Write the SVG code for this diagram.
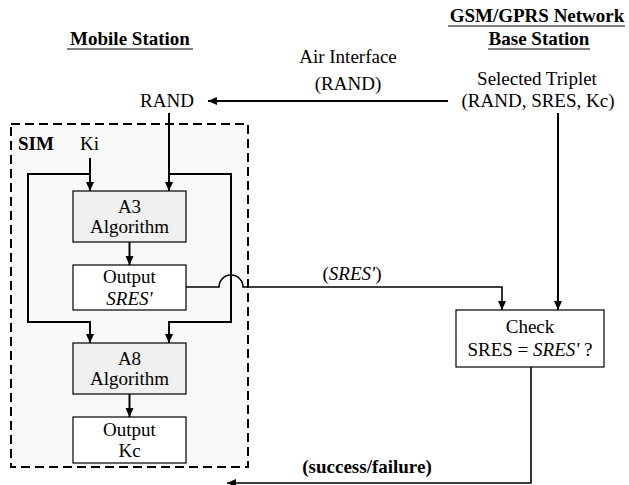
<svg xmlns="http://www.w3.org/2000/svg" width="629" height="485" viewBox="0 0 629 485">
<style>
text{font-family:"Liberation Serif","Times New Roman",serif;font-size:19px;fill:#000}
.b{font-weight:bold}
.i{font-style:italic}
.ln{fill:none;stroke:#000;stroke-width:2}
.thin{stroke-width:1.6}
.box{stroke:#000;stroke-width:1.2}
.g{fill:#f0f0f0}
.w{fill:#fff}
.ul{stroke:#000;stroke-width:1.2}
</style>
<defs>
<marker id="ah" markerUnits="userSpaceOnUse" markerWidth="9" markerHeight="9" refX="9" refY="4.5" orient="auto">
<path d="M0,0.5 L9,4.5 L0,8.5 z" fill="#000"/>
</marker>
</defs>
<rect width="629" height="485" fill="#fff"/>
<g id="sim">
<rect x="11" y="124" width="237" height="343" fill="#f8f8f8" stroke="#000" stroke-width="2" stroke-dasharray="9,5"/>
<text class="b" x="18" y="150">SIM</text>
<text x="80" y="150">Ki</text>
</g>
<g id="headers">
<text class="b" x="130" y="45" text-anchor="middle">Mobile Station</text>
<line class="ul" x1="67" y1="49" x2="193" y2="49"/>
<text class="b" x="537" y="22" text-anchor="middle">GSM/GPRS Network</text>
<line class="ul" x1="448" y1="26" x2="625" y2="26"/>
<text class="b" x="539" y="45" text-anchor="middle">Base Station</text>
<line class="ul" x1="488" y1="49" x2="590" y2="49"/>
</g>
<g id="rand">
<text x="167" y="107" text-anchor="middle">RAND</text>
</g>
<g id="triplet">
<text x="537" y="85" text-anchor="middle">Selected Triplet</text>
<text x="538" y="107" text-anchor="middle">(RAND, SRES, Kc)</text>
</g>
<g id="a3">
<rect class="box g" x="73" y="191" width="113" height="51"/>
<text x="129.5" y="213" text-anchor="middle">A3</text>
<text x="129.5" y="233" text-anchor="middle">Algorithm</text>
</g>
<g id="out-sres">
<rect class="box w" x="73" y="265" width="113" height="45"/>
<text x="129.5" y="283" text-anchor="middle">Output</text>
<text class="i" x="129.5" y="305" text-anchor="middle">SRES'</text>
</g>
<g id="a8">
<rect class="box g" x="73" y="343" width="113" height="51"/>
<text x="129.5" y="365" text-anchor="middle">A8</text>
<text x="129.5" y="385" text-anchor="middle">Algorithm</text>
</g>
<g id="out-kc">
<rect class="box w" x="73" y="417" width="113" height="46"/>
<text x="129.5" y="436" text-anchor="middle">Output</text>
<text x="129.5" y="457" text-anchor="middle">Kc</text>
</g>
<g id="check">
<rect class="box w" x="456" y="310" width="148" height="57"/>
<text x="530" y="333" text-anchor="middle">Check</text>
<text x="530" y="356" text-anchor="middle">SRES = <tspan class="i">SRES'</tspan> ?</text>
</g>
<g id="connectors">
<line class="ln" x1="448" y1="101" x2="208" y2="101" marker-end="url(#ah)"/>
<text x="348" y="63" text-anchor="middle">Air Interface</text>
<text x="348" y="90" text-anchor="middle">(RAND)</text>
<line class="ln" x1="90" y1="158" x2="90" y2="191" marker-end="url(#ah)"/>
<line class="ln" x1="169" y1="113" x2="169" y2="191" marker-end="url(#ah)"/>
<polyline class="ln" points="90,174 28,174 28,322 90,322 90,343" marker-end="url(#ah)"/>
<polyline class="ln" points="169,174 231,174 231,322 169,322 169,343" marker-end="url(#ah)"/>
<line class="ln" x1="129.5" y1="242" x2="129.5" y2="265" marker-end="url(#ah)"/>
<line class="ln" x1="129.5" y1="394" x2="129.5" y2="417" marker-end="url(#ah)"/>
<path class="ln thin" d="M186,287 H219 A12,12 0 0 1 243,287 H502 V310" marker-end="url(#ah)"/>
<text x="352" y="280" text-anchor="middle">(<tspan class="i">SRES'</tspan>)</text>
<line class="ln" x1="558" y1="113" x2="558" y2="310" marker-end="url(#ah)"/>
<polyline class="ln thin" points="531,367 531,483 227,483" marker-end="url(#ah)"/>
<text class="b" x="367" y="473" text-anchor="middle">(success/failure)</text>
</g>
</svg>
